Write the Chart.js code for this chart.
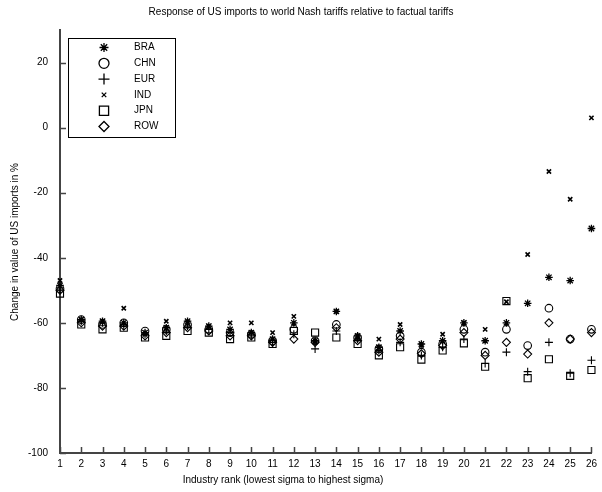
<!DOCTYPE html>
<html><head><meta charset="utf-8">
<script src="https://cdn.jsdelivr.net/npm/chart.js@4/dist/chart.umd.min.js"></script>
<style>html,body{margin:0;padding:0;background:#fff}#wrap{width:602px;height:492px}</style>
</head><body><div id="wrap"><canvas id="c" width="602" height="492"></canvas></div>
<script>
const industries = [1,2,3,4,5,6,7,8,9,10,11,12,13,14,15,16,17,18,19,20,21,22,23,24,25,26];
const yTicks = [-100,-80,-60,-40,-20,0,20];
const seriesNames = ['BRA','CHN','EUR','IND','JPN','ROW'];
const BRA = [-48.5,-59,-59.5,-60,-63,-61.5,-59.5,-61,-62,-63,-65,-60,-65.5,-56.5,-64,-67.5,-62.5,-66.5,-65.5,-60,-65.5,-60,-54,-46,-47,-31];
const CHN = [-49.5,-59,-60.5,-60,-62.5,-62,-60.5,-62,-63,-63.5,-65.5,-62,-65.5,-60.5,-64.5,-68,-64,-69,-66.5,-62,-69,-62,-67,-55.5,-65,-62];
const EUR = [-50,-59.5,-60,-61,-63.5,-62.5,-61,-62,-63,-64,-66,-63.5,-68,-62.5,-65,-68.5,-66,-70,-67.5,-65,-72.5,-69,-75,-66,-75.5,-71.5];
const IND = [-47,-59,-59.5,-55.5,-63.5,-59.5,-60,-61,-60,-60,-63,-58,-66,-56.5,-64.5,-65,-60.5,-67,-63.5,-60,-62,-53.5,-39,-13.5,-22,3];
const JPN = [-51,-60.5,-62,-61.5,-64.5,-64,-62.5,-63,-65,-64.5,-66.5,-62.5,-63,-64.5,-66.5,-70,-67.5,-71.3,-68.5,-66.3,-73.5,-53.3,-77,-71.2,-76.3,-74.5];
const ROW = [-50,-60,-61,-61,-64,-63,-61.5,-62.5,-64,-64,-66,-65,-66,-61.5,-65.5,-69,-65,-69.5,-67,-63,-70,-66,-69.6,-60,-65,-63];

const titleText = 'Response of US imports to world Nash tariffs relative to factual tariffs';
const xTitle = 'Industry rank (lowest sigma to highest sigma)';
const yTitle = 'Change in value of US imports in %';

const FONT = '"Liberation Sans", Arial, sans-serif';
const seriesValues = [BRA, CHN, EUR, IND, JPN, ROW];
const styles = ['star','circle','cross','crossRot','rect','rectRot'];
const radii = [3.8, 3.8, 4, 3, 5, 4];
const widths = [1.3, 1.1, 1.1, 1.6, 1.1, 1.1];
const legendRadii = [4.5, 5, 5.5, 3.2, 6.5, 5];

const datasets = seriesNames.map((n, i) => ({
  label: n,
  data: industries.map((x, k) => ({x: x, y: seriesValues[i][k]})),
  pointStyle: styles[i],
  pointRadius: radii[i],
  pointHoverRadius: radii[i],
  borderColor: '#000',
  backgroundColor: 'rgba(0,0,0,0)',
  pointBorderWidth: widths[i],
  showLine: false,
  clip: false
}));

const decor = {
  id: 'decor',
  afterDraw(chart) {
    const ctx = chart.ctx, ca = chart.chartArea;
    const xs = chart.scales.x, ys = chart.scales.y;
    ctx.save();
    ctx.strokeStyle = '#444';
    ctx.lineWidth = 1.5;
    ctx.beginPath();
    yTicks.forEach(v => { const y = Math.round(ys.getPixelForValue(v)) + 0.5; ctx.moveTo(ca.left, y); ctx.lineTo(ca.left + 6, y); });
    industries.forEach(v => { const x = Math.round(xs.getPixelForValue(v)) + 0.5; ctx.moveTo(x, ca.bottom); ctx.lineTo(x, ca.bottom - 6); });
    ctx.stroke();
    // titles
    ctx.fillStyle = '#000';
    ctx.font = '10px ' + FONT;
    ctx.textAlign = 'center';
    ctx.textBaseline = 'middle';
    ctx.fillText(titleText, 301, 12);
    ctx.fillText(xTitle, 283, 480);
    ctx.save();
    ctx.translate(15, 242);
    ctx.rotate(-Math.PI / 2);
    ctx.fillText(yTitle, 0, 0);
    ctx.restore();
    // legend
    const bx = 68, by = 38, bw = 107, bh = 99;
    ctx.fillStyle = '#fff';
    ctx.fillRect(bx, by, bw, bh);
    ctx.strokeStyle = '#000';
    ctx.lineWidth = 1;
    ctx.strokeRect(bx + 0.5, by + 0.5, bw, bh);
    ctx.textAlign = 'left';
    seriesNames.forEach((n, i) => {
      const yy = 47.5 + i * 15.8;
      ctx.strokeStyle = '#000';
      ctx.fillStyle = 'rgba(0,0,0,0)';
      ctx.lineWidth = 1.3;
      Chart.helpers.drawPoint(ctx, {pointStyle: styles[i], radius: legendRadii[i], borderWidth: 1.3, rotation: 0}, 104, yy);
      ctx.fillStyle = '#000';
      ctx.fillText(n, 134, yy);
    });
    ctx.restore();
  }
};

new Chart(document.getElementById('c'), {
  type: 'scatter',
  data: { datasets },
  options: {
    responsive: false,
    animation: false,
    devicePixelRatio: 1,
    layout: { padding: { top: 30, right: 4, left: 0, bottom: 0 } },
    plugins: { legend: { display: false }, tooltip: { enabled: false }, title: { display: false } },
    scales: {
      x: {
        type: 'linear', min: 1, max: 26,
        afterFit: s => { s.height = 39; },
        grid: { display: false, drawTicks: false },
        border: { display: true, color: '#444', width: 2 },
        ticks: { stepSize: 1, color: '#000', font: { size: 10, family: FONT }, padding: 5, maxRotation: 0, autoSkip: false, includeBounds: false }
      },
      y: {
        type: 'linear', min: -100, max: 30,
        afterFit: s => { s.width = 60; },
        grid: { display: false, drawTicks: false },
        border: { display: true, color: '#444', width: 2 },
        ticks: { stepSize: 20, color: '#000', font: { size: 10, family: FONT }, padding: 12, includeBounds: false }
      }
    }
  },
  plugins: [decor]
});
</script>
</body></html>
